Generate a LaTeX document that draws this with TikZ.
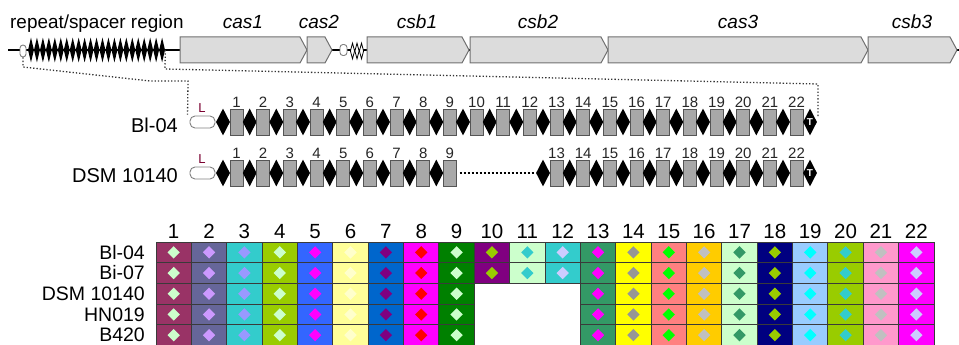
\documentclass[tikz,border=0pt]{standalone}
\usepackage{fontspec}
\setmainfont{Liberation Sans}
\usetikzlibrary{shapes.geometric}
\definecolor{genefill}{HTML}{DCDCDC}
\definecolor{genedraw}{HTML}{707070}
\definecolor{spfill}{HTML}{A8A8A8}
\definecolor{spdraw}{HTML}{555555}
\definecolor{lcol}{HTML}{7A0030}
\definecolor{gridline}{HTML}{3A3A3A}
% cell fills
\definecolor{cf1}{HTML}{993366}\definecolor{cd1}{HTML}{CCFFCC}
\definecolor{cf2}{HTML}{666699}\definecolor{cd2}{HTML}{CC99FF}
\definecolor{cf3}{HTML}{33CCCC}\definecolor{cd3}{HTML}{9999FF}
\definecolor{cf4}{HTML}{99CC00}\definecolor{cd4}{HTML}{CCFFCC}
\definecolor{cf5}{HTML}{3366FF}\definecolor{cd5}{HTML}{FF00FF}
\definecolor{cf6}{HTML}{FFFF99}\definecolor{cd6}{HTML}{FFFFCC}
\definecolor{cf7}{HTML}{0066CC}\definecolor{cd7}{HTML}{800080}
\definecolor{cf8}{HTML}{FF00FF}\definecolor{cd8}{HTML}{FF0000}
\definecolor{cf9}{HTML}{008000}\definecolor{cd9}{HTML}{CCFFCC}
\definecolor{cf10}{HTML}{800080}\definecolor{cd10}{HTML}{99CC00}
\definecolor{cf11}{HTML}{CCFFCC}\definecolor{cd11}{HTML}{33CCCC}
\definecolor{cf12}{HTML}{33CCCC}\definecolor{cd12}{HTML}{CCCCFF}
\definecolor{cf13}{HTML}{339966}\definecolor{cd13}{HTML}{FF00FF}
\definecolor{cf14}{HTML}{FFFF00}\definecolor{cd14}{HTML}{969696}
\definecolor{cf15}{HTML}{FF8080}\definecolor{cd15}{HTML}{00FF00}
\definecolor{cf16}{HTML}{FFCC00}\definecolor{cd16}{HTML}{C0C0C0}
\definecolor{cf17}{HTML}{CCFFCC}\definecolor{cd17}{HTML}{339966}
\definecolor{cf18}{HTML}{000080}\definecolor{cd18}{HTML}{99CC00}
\definecolor{cf19}{HTML}{99CCFF}\definecolor{cd19}{HTML}{00FFFF}
\definecolor{cf20}{HTML}{99CC00}\definecolor{cd20}{HTML}{33CCCC}
\definecolor{cf21}{HTML}{FF99CC}\definecolor{cd21}{HTML}{C0C0C0}
\definecolor{cf22}{HTML}{FF00FF}\definecolor{cd22}{HTML}{CCCCFF}
\begin{document}
\begin{tikzpicture}[x=1pt,y=-1pt,
  gene/.style={draw=genedraw, fill=genefill, line width=1},
  glabel/.style={font=\fontsize{19}{19}\selectfont\itshape, anchor=base, inner sep=0},
  minirep/.style={diamond, fill=black, inner sep=0, minimum width=6, minimum height=25},
  openrep/.style={diamond, draw=black, fill=white, line width=0.8, inner sep=0, minimum width=4.5, minimum height=16},
  leader/.style={draw=gray, fill=white, rounded corners=3, inner sep=0, line width=0.9},
  rep/.style={diamond, fill=black, inner sep=0, minimum width=14, minimum height=27},
  term/.style={diamond, fill=black, inner sep=0, minimum width=14, minimum height=27, text=white, font=\fontsize{10}{10}\selectfont\bfseries},
  spc/.style={rectangle, draw=spdraw, fill=spfill, inner sep=0, minimum width=13, minimum height=26, line width=0.8},
  Lbox/.style={rectangle, draw=gray, fill=white, rounded corners=5, inner sep=0, minimum width=25, minimum height=12, line width=0.9},
  Llab/.style={text=lcol, font=\fontsize{13}{13}\selectfont, anchor=base, inner sep=0},
  anum/.style={font=\fontsize{15}{15}\selectfont, text=black!85, anchor=base, inner sep=0},
  alab/.style={font=\fontsize{20}{20}\selectfont, anchor=base east, inner sep=0},
  conn/.style={dotted, line width=1.3, black!80},
  cell/.style={rectangle, draw=gridline, line width=0.9, inner sep=0, minimum width=35.36, minimum height=20.7},
  cdia/.style={diamond, inner sep=0, minimum width=12.5, minimum height=12.5},
  gnum/.style={font=\fontsize{20.5}{20.5}\selectfont, anchor=base, inner sep=0},
  glab/.style={font=\fontsize{19.5}{19.5}\selectfont, anchor=base east, inner sep=0}
]
\useasboundingbox (0,0) rectangle (959,345);

% ---------- top locus ----------
\coordinate (tl) at (8,50);
\coordinate (tr) at (959,50);
\draw[line width=2] (tl) -- (tr);
\node[leader, minimum width=6, minimum height=12] (lead) at (23,51) {};
\foreach \i in {0,...,22}
  \node[minirep] (r\i) at ({30.98+\i*5.96},50) {};
\node[anchor=base west, inner sep=0, font=\fontsize{18.9}{18.9}\selectfont] (rsr) at (10,29) {repeat/spacer region};

\foreach \a/\b/\t/\c in {180/307/cas1/243, 307/332/cas2/319, 367/469/csb1/417, 470/608/csb2/538, 608/868/cas3/738, 868/957/csb3/912}{
  \draw[gene] (\a,37) -- (\b-7,37) -- (\b,50) -- (\b-7,63) -- (\a,63) -- cycle;
  \node[glabel] (lab-\t) at (\c,29) {\t};
}
\node[leader, minimum width=7, minimum height=11] (lead2) at (343.5,50) {};
\foreach \k/\x in {1/352.5, 2/357, 3/361.5}
  \node[openrep] (o\k) at (\x,51) {};

% ---------- arrays ----------
\node[alab] (lab1) at (178,132) {Bl-04};
\node[alab] (lab2) at (178,182) {DSM 10140};

\node[Lbox] (L1) at (202.5,122) {};
\node[Llab] (Lt1) at (202,112) {L};
\node[Lbox] (L2) at (202.5,173) {};
\node[Llab] (Lt2) at (202,163) {L};

\foreach \i in {1,...,22}{
  \pgfmathsetmacro\xs{236.5+(\i-1)*26.667}
  \node[rep] (ad1-\i) at (\xs-13.5,122) {};
  \node[spc] (a1-\i) at (\xs,122) {};
  \node[anum] (n1-\i) at (\xs,107) {\i};
}
\node[term] (T1) at (810,122) {T};

\foreach \i in {1,...,9,13,14,...,22}{
  \pgfmathsetmacro\xs{236.5+(\i-1)*26.667}
  \node[rep] (ad2-\i) at (\xs-13.5,173) {};
  \node[spc] (a2-\i) at (\xs,173) {};
  \node[anum] (n2-\i) at (\xs,158) {\i};
}
\node[term] (T2) at (810,173) {T};
\draw[dotted, line width=2] ([xshift=3]a2-9.east) -- ([xshift=-1]ad2-13.west);

% ---------- zoom connectors ----------
\draw[conn] (lead.south) -- (23,67) -- (150,81) -- (188,81) -- ([xshift=-2,yshift=1]L1.north west);
\draw[conn] (r22.east) -- (165,69) -- (818,84) -- (818,118);

% ---------- spacer grid ----------
\foreach \j in {1,...,22}{
  \pgfmathsetmacro\cx{156+(\j-0.5)*35.364}
  \node[gnum] (g\j) at (\cx,238) {\j};
}
\foreach \j in {1,...,9,13,14,...,22}{
  \pgfmathsetmacro\cx{156+(\j-0.5)*35.364}
  \foreach \r in {1,...,5}{
    \pgfmathsetmacro\cy{242+(\r-0.5)*20.7}
    \node[cell, fill=cf\j] (c\j-\r) at (\cx,\cy) {};
    \node[cdia, fill=cd\j] (d\j-\r) at (\cx,\cy) {};
  }
}
\foreach \j in {10,11,12}{
  \pgfmathsetmacro\cx{156+(\j-0.5)*35.364}
  \foreach \r in {1,2}{
    \pgfmathsetmacro\cy{242+(\r-0.5)*20.7}
    \node[cell, fill=cf\j] (c\j-\r) at (\cx,\cy) {};
    \node[cdia, fill=cd\j] (d\j-\r) at (\cx,\cy) {};
  }
}
\foreach \r/\t in {1/Bl-04, 2/Bi-07, 3/DSM 10140, 4/HN019, 5/B420}{
  \pgfmathsetmacro\cy{242+(\r-0.5)*20.7+6.8}
  \node[glab] (rl\r) at (145,\cy) {\t};
}
\end{tikzpicture}
\end{document}
